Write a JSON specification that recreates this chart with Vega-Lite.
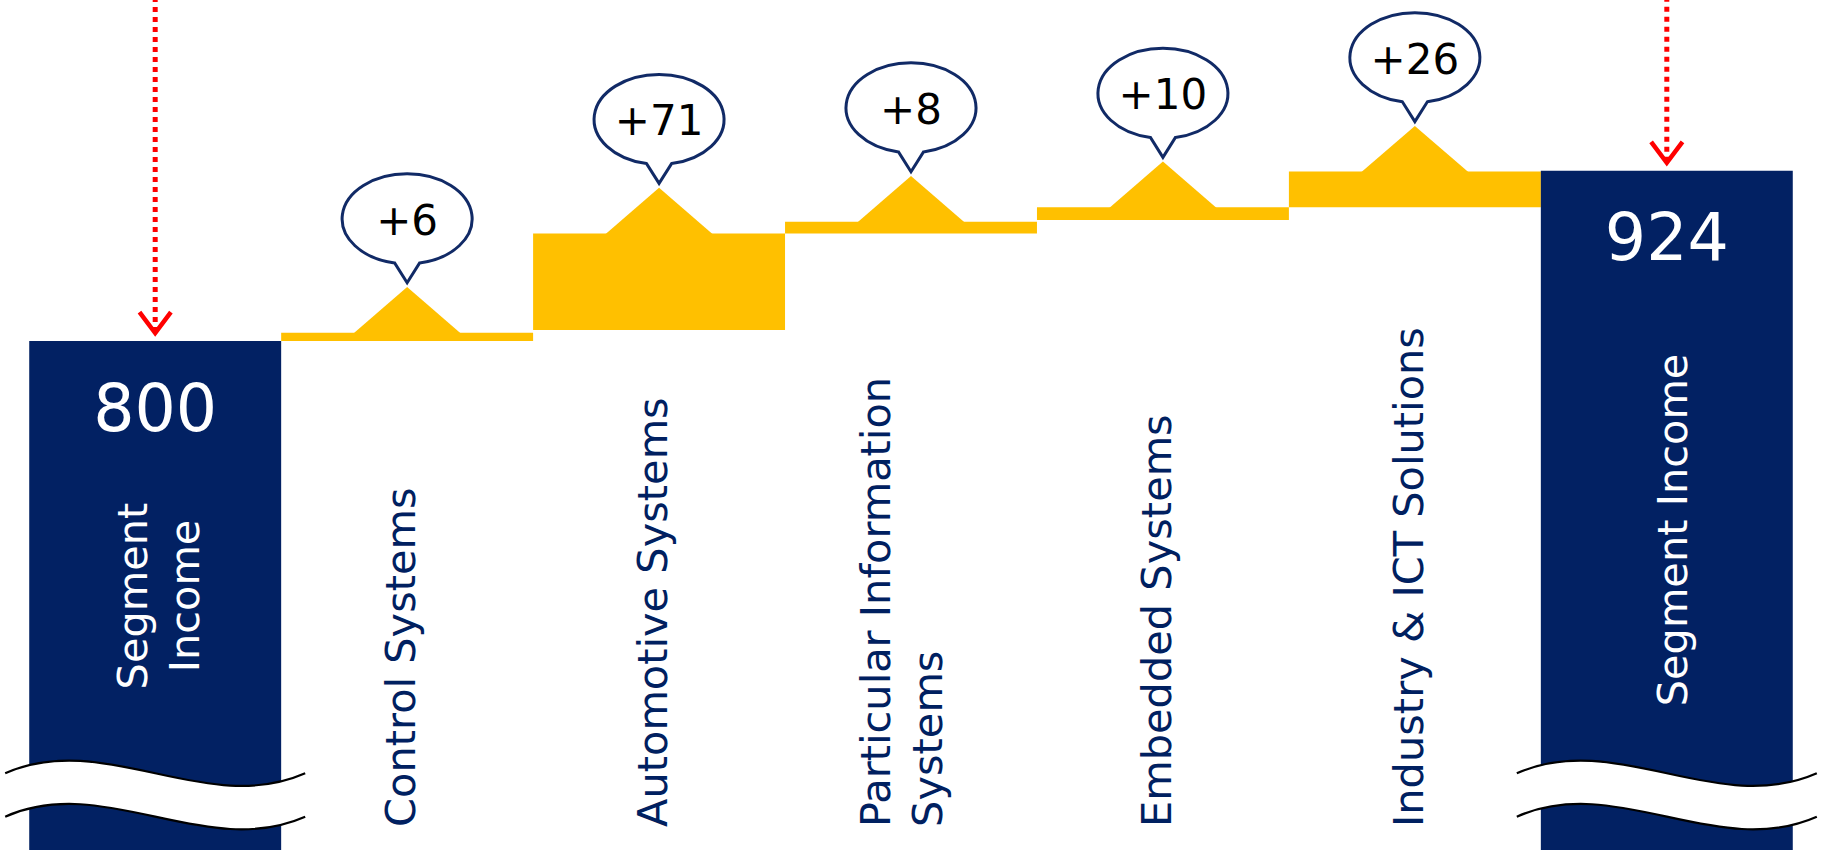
{
  "$schema": "https://vega.github.io/schema/vega-lite/v6.json",
  "width": 1822,
  "height": 850,
  "padding": 0,
  "autosize": {"type": "none"},
  "background": "white",
  "config": {"view": {"stroke": null}},
  "data": {
    "values": [
      {"item": "Segment Income (before)", "label": ["Segment", "Income"], "type": "total", "start": 0, "end": 800, "display": "800"},
      {"item": "Control Systems", "label": "Control Systems", "type": "change", "start": 800, "end": 806, "display": "+6"},
      {"item": "Automotive Systems", "label": "Automotive Systems", "type": "change", "start": 808, "end": 878.4, "display": "+71"},
      {"item": "Particular Information Systems", "label": ["Particular Information", "Systems"], "type": "change", "start": 878.4, "end": 886.9, "display": "+8"},
      {"item": "Embedded Systems", "label": "Embedded Systems", "type": "change", "start": 888.1, "end": 897.4, "display": "+10"},
      {"item": "Industry & ICT Solutions", "label": "Industry & ICT Solutions", "type": "change", "start": 897.4, "end": 923.4, "display": "+26"},
      {"item": "Segment Income (after)", "label": "Segment Income", "type": "total", "start": 0, "end": 924, "display": "924"}
    ]
  },
  "encoding": {
    "x": {"field": "item", "type": "nominal", "sort": null, "axis": null, "scale": {"paddingInner": 0, "paddingOuter": 0.116}}
  },
  "layer": [
    {
      "mark": {"type": "bar", "clip": true},
      "encoding": {
        "y": {"field": "start", "type": "quantitative", "axis": null, "scale": {"domain": [429.3, 1048.4], "nice": false, "zero": false}},
        "y2": {"field": "end"},
        "color": {"field": "type", "type": "nominal", "legend": null, "scale": {"domain": ["total", "change"], "range": ["#022163", "#FFC000"]}}
      }
    },
    {
      "transform": [{"filter": "datum.type == 'change'"}],
      "mark": {"type": "point", "shape": "M-54,1L0,-45.7L54,1Z", "size": 4, "filled": true, "fill": "#FFC000", "strokeWidth": 0, "opacity": 1},
      "encoding": {
        "y": {"field": "end", "type": "quantitative", "scale": {"domain": [429.3, 1048.4], "nice": false, "zero": false}}
      }
    },
    {
      "transform": [{"filter": "datum.type == 'total'"}],
      "mark": {"type": "point", "shape": "M-150,-21.7C-50,-65.7,50,22.3,150,-21.7L150,21.7C50,65.7,-50,-22.3,-150,21.7Z", "size": 4, "filled": true, "fill": "white", "strokeWidth": 0, "opacity": 1},
      "encoding": {
        "y": {"datum": 469.4, "type": "quantitative", "scale": {"domain": [429.3, 1048.4], "nice": false, "zero": false}}
      }
    },
    {
      "transform": [{"filter": "datum.type == 'total'"}],
      "mark": {"type": "point", "shape": "M-150,-21.7C-50,-65.7,50,22.3,150,-21.7M-150,21.7C-50,-22.3,50,65.7,150,21.7", "size": 4, "filled": false, "stroke": "black", "strokeWidth": 2.2, "opacity": 1},
      "encoding": {
        "y": {"datum": 469.4, "type": "quantitative", "scale": {"domain": [429.3, 1048.4], "nice": false, "zero": false}}
      }
    },
    {
      "transform": [{"filter": "datum.type == 'change'"}],
      "mark": {"type": "point", "shape": "M-12.5,-69.8A65,45,0,1,1,12.5,-69.8L0,-50Z", "size": 4, "filled": true, "fill": "white", "stroke": "#112a66", "strokeWidth": 3, "opacity": 1},
      "encoding": {
        "y": {"field": "end", "type": "quantitative", "scale": {"domain": [429.3, 1048.4], "nice": false, "zero": false}}
      }
    },
    {
      "transform": [{"filter": "datum.type == 'change'"}],
      "mark": {"type": "text", "font": "DejaVu Sans", "fontSize": 42, "color": "black", "align": "center", "baseline": "middle", "dy": -111},
      "encoding": {
        "y": {"field": "end", "type": "quantitative", "scale": {"domain": [429.3, 1048.4], "nice": false, "zero": false}},
        "text": {"field": "display", "type": "nominal"}
      }
    },
    {
      "transform": [{"filter": "datum.type == 'total'"}],
      "mark": {"type": "text", "font": "DejaVu Sans", "fontSize": 65, "color": "white", "align": "center", "baseline": "alphabetic", "dy": 89.5},
      "encoding": {
        "y": {"field": "end", "type": "quantitative", "scale": {"domain": [429.3, 1048.4], "nice": false, "zero": false}},
        "text": {"field": "display", "type": "nominal"}
      }
    },
    {
      "transform": [{"filter": "datum.item == 'Segment Income (before)'"}],
      "mark": {"type": "text", "font": "DejaVu Sans", "fontSize": 41.5, "lineHeight": 52, "color": "white", "align": "center", "baseline": "middle", "angle": 270, "dy": -20},
      "encoding": {
        "y": {"datum": 614.3, "type": "quantitative", "scale": {"domain": [429.3, 1048.4], "nice": false, "zero": false}},
        "text": {"field": "label", "type": "nominal"}
      }
    },
    {
      "transform": [{"filter": "datum.item == 'Segment Income (after)'"}],
      "mark": {"type": "text", "font": "DejaVu Sans", "fontSize": 41.5, "lineHeight": 52, "color": "white", "align": "center", "baseline": "middle", "angle": 270, "dy": 8},
      "encoding": {
        "y": {"datum": 662.4, "type": "quantitative", "scale": {"domain": [429.3, 1048.4], "nice": false, "zero": false}},
        "text": {"field": "label", "type": "nominal"}
      }
    },
    {
      "transform": [{"filter": "datum.type == 'change' && !isArray(datum.label)"}],
      "mark": {"type": "text", "font": "DejaVu Sans", "fontSize": 41.5, "lineHeight": 52, "color": "#002060", "align": "left", "baseline": "middle", "angle": 270, "dy": -4},
      "encoding": {
        "y": {"datum": 446.1, "type": "quantitative", "scale": {"domain": [429.3, 1048.4], "nice": false, "zero": false}},
        "text": {"field": "label", "type": "nominal"}
      }
    },
    {
      "transform": [{"filter": "datum.type == 'change' && isArray(datum.label)"}],
      "mark": {"type": "text", "font": "DejaVu Sans", "fontSize": 41.5, "lineHeight": 52, "color": "#002060", "align": "left", "baseline": "middle", "angle": 270, "dy": -33},
      "encoding": {
        "y": {"datum": 446.1, "type": "quantitative", "scale": {"domain": [429.3, 1048.4], "nice": false, "zero": false}},
        "text": {"field": "label", "type": "nominal"}
      }
    },
    {
      "transform": [{"filter": "datum.type == 'total'"}],
      "mark": {"type": "rule", "color": "#FF0000", "strokeWidth": 5, "strokeDash": [5, 5], "yOffset": -9},
      "encoding": {
        "y": {"field": "end", "type": "quantitative", "scale": {"domain": [429.3, 1048.4], "nice": false, "zero": false}},
        "y2": {"datum": 1048.4}
      }
    },
    {
      "transform": [{"filter": "datum.type == 'total'"}],
      "mark": {"type": "point", "shape": "M-15.7,-21L0,0L15.7,-21", "size": 4, "filled": false, "color": "#FF0000", "strokeWidth": 4.5, "strokeJoin": "miter", "opacity": 1, "yOffset": -8},
      "encoding": {
        "y": {"field": "end", "type": "quantitative", "scale": {"domain": [429.3, 1048.4], "nice": false, "zero": false}}
      }
    }
  ]
}
